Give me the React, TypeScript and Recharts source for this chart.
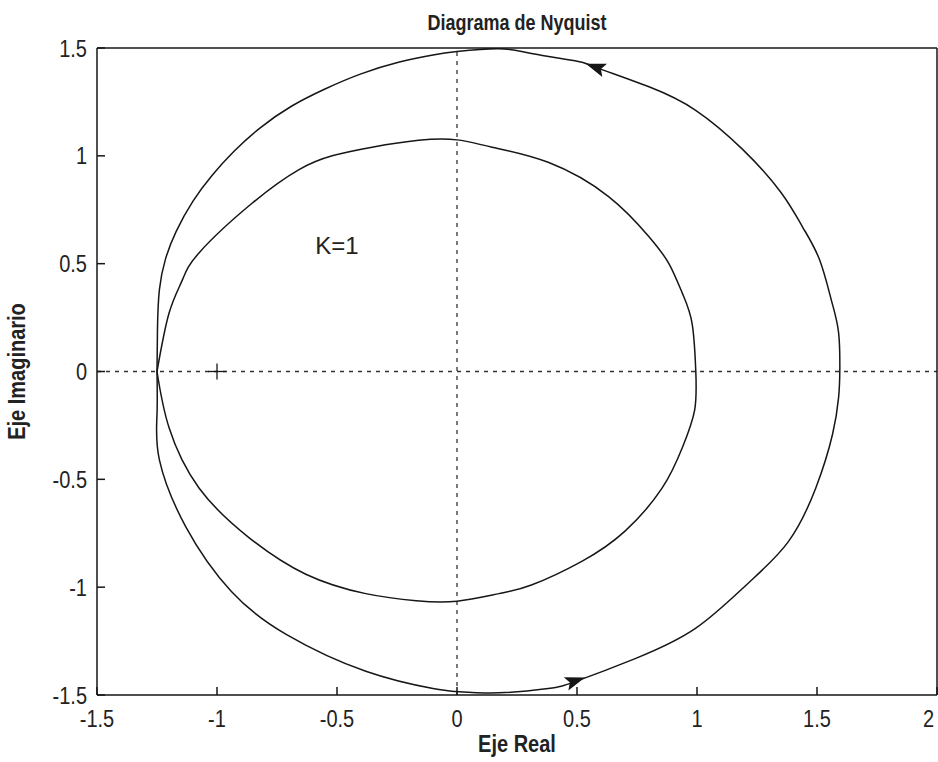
import {
  ScatterChart,
  Scatter,
  XAxis,
  YAxis,
  ReferenceLine,
  Label,
} from "recharts";

// curve points (real, imaginary)
const outerUpper = [
  [-1.25, 0], [-1.248, 0.2], [-1.24, 0.38], [-1.215, 0.52], [-1.17, 0.65],
  [-1.1, 0.79], [-1.02, 0.91], [-0.93, 1.02], [-0.82, 1.13], [-0.69, 1.23],
  [-0.55, 1.31], [-0.4, 1.38], [-0.24, 1.435], [-0.1, 1.468], [0, 1.484],
  [0.175, 1.497], [0.31, 1.475], [0.496, 1.44], [0.58, 1.41], [0.8, 1.32],
  [0.996, 1.21], [1.19, 1.03], [1.35, 0.83], [1.44, 0.67], [1.51, 0.52],
  [1.56, 0.33], [1.59, 0.18], [1.595, 0],
];
const outerLower = [
  [1.59, -0.12], [1.565, -0.29], [1.495, -0.54], [1.38, -0.79], [1.21, -0.985],
  [0.995, -1.19], [0.745, -1.33], [0.495, -1.437], [0.38, -1.47], [0.175, -1.49],
  [0, -1.484], [-0.1, -1.47], [-0.38, -1.39], [-0.71, -1.22], [-0.94, -1.02],
  [-1.13, -0.72], [-1.24, -0.41], [-1.25, -0.2], [-1.25, 0],
];
const innerUpper = [
  [-1.25, 0], [-1.2, 0.27], [-1.146, 0.42], [-1.075, 0.55], [-0.854, 0.78],
  [-0.66, 0.935], [-0.52, 1.0], [-0.354, 1.04], [-0.16, 1.072], [0, 1.074],
  [0.146, 1.04], [0.38, 0.97], [0.633, 0.81], [0.8, 0.625], [0.883, 0.5],
  [0.94, 0.36], [0.98, 0.22], [0.995, 0],
];
const innerLower = [
  [0.99, -0.18], [0.94, -0.35], [0.855, -0.54], [0.7, -0.74], [0.52, -0.88],
  [0.31, -0.99], [0.175, -1.03], [0, -1.065], [-0.17, -1.063], [-0.38, -1.03],
  [-0.63, -0.94], [-0.867, -0.77], [-1.075, -0.54], [-1.2, -0.26], [-1.25, 0],
];

const upperArrow = [{ x: 0.58, y: 1.41 }];
const lowerArrow = [{ x: 0.49, y: -1.435 }];
const criticalPoint = [{ x: -1, y: 0 }];
const gainNote = [{ x: -0.5, y: 0.585, text: "K=1" }];

const xTicks = [-1.5, -1, -0.5, 0, 0.5, 1, 1.5, 2];
const yTicks = [-1.5, -1, -0.5, 0, 0.5, 1, 1.5];

const toPts = (arr: number[][]) => arr.map(([x, y]) => ({ x, y }));
const outer = toPts([...outerUpper, ...outerLower]);
const inner = toPts([...innerUpper, ...innerLower]);

const FONT = "Arial, 'Liberation Sans', Helvetica, sans-serif";
const INK = "#161616";
const TXT = "#222";
// the scanned figure has its lettering stretched vertically
const STRETCH = 1.2;

const noDot = () => <g />;

const xTick = (props: any) => {
  const { x, y, payload } = props;
  // last label sits on the page edge, keep it inside
  const anchor = payload.value === xTicks[xTicks.length - 1] ? "end" : "middle";
  return (
    <text transform={`translate(${x},${y}) scale(1,${STRETCH})`} dy="0.71em"
      textAnchor={anchor} fontFamily={FONT} fontSize={20} fill={TXT}>
      {payload.value}
    </text>
  );
};

const yTick = (props: any) => {
  const { x, y, payload } = props;
  return (
    <text transform={`translate(${x},${y}) scale(1,${STRETCH})`} dy="0.36em"
      textAnchor="end" fontFamily={FONT} fontSize={20} fill={TXT}>
      {payload.value}
    </text>
  );
};

const stretchedText = (value: string, size: number, place: (vb: any) => string) =>
  (props: any) => (
    <text transform={place(props.viewBox)} textAnchor="middle" fontFamily={FONT}
      fontSize={size} fontWeight="bold" fill={TXT}>
      {value}
    </text>
  );

const titleContent = stretchedText("Diagrama de Nyquist", 18,
  (vb) => `translate(${vb.x + vb.width / 2},30) scale(1,${STRETCH})`);
const xLabelContent = stretchedText("Eje Real", 20,
  (vb) => `translate(${vb.x + vb.width / 2},${vb.y + vb.height + 27}) scale(1,${STRETCH})`);
const yLabelContent = stretchedText("Eje Imaginario", 20,
  (vb) => `translate(25,${vb.y + vb.height / 2}) rotate(-90) scale(1,${STRETCH})`);

const arrowShape = (angle: number) => (props: any) => {
  const { cx, cy } = props;
  return (
    <polygon
      points="11,0 -9,-7 -5,0 -9,7"
      fill={INK}
      transform={`translate(${cx},${cy}) rotate(${angle})`}
    />
  );
};

const crossShape = (props: any) => {
  const { cx, cy } = props;
  return (
    <g stroke={INK} strokeWidth={1.3}>
      <line x1={cx - 9} y1={cy} x2={cx + 9} y2={cy} />
      <line x1={cx} y1={cy - 8} x2={cx} y2={cy + 8} />
    </g>
  );
};

const noteShape = (props: any) => {
  const { cx, cy, payload } = props;
  return (
    <text x={cx} y={cy} dy="0.36em" textAnchor="middle"
      fontFamily={FONT} fontSize={24} fill={TXT}>
      {payload.text}
    </text>
  );
};

export default function App() {
  return (
    <div style={{ position: "absolute", left: 0, top: 0, background: "#fff" }}>
      <ScatterChart width={938} height={762} margin={{ top: 47, right: 0, bottom: 37, left: 0 }}>
        <XAxis
          xAxisId="top"
          orientation="top"
          type="number"
          dataKey="x"
          domain={[-1.5, 2]}
          ticks={xTicks}
          allowDataOverflow
          height={1}
          tick={false}
          tickSize={-8}
          stroke={INK}
          strokeWidth={1.5}
        >
          <Label content={titleContent} />
        </XAxis>
        <XAxis
          type="number"
          dataKey="x"
          domain={[-1.5, 2]}
          ticks={xTicks}
          allowDataOverflow
          height={30}
          tickSize={-8}
          tickMargin={23}
          tick={xTick}
          stroke={INK}
          strokeWidth={1.5}
        >
          <Label content={xLabelContent} />
        </XAxis>
        <YAxis
          type="number"
          dataKey="y"
          domain={[-1.5, 1.5]}
          ticks={yTicks}
          allowDataOverflow
          width={97}
          tickSize={-8}
          tickMargin={18}
          tick={yTick}
          stroke={INK}
          strokeWidth={1.5}
        >
          <Label content={yLabelContent} />
        </YAxis>
        <YAxis
          yAxisId="right"
          orientation="right"
          type="number"
          dataKey="y"
          domain={[-1.5, 1.5]}
          ticks={yTicks}
          allowDataOverflow
          width={1}
          tick={false}
          tickSize={-8}
          stroke={INK}
          strokeWidth={1.5}
        />
        <ReferenceLine x={0} stroke="#333" strokeWidth={1.3} strokeDasharray="4 5" />
        <ReferenceLine y={0} stroke="#333" strokeWidth={1.3} strokeDasharray="4 5" />
        <Scatter data={outer} fill={INK} line={{ stroke: INK, strokeWidth: 1.5 }}
          lineJointType="natural" shape={noDot} isAnimationActive={false} />
        <Scatter data={inner} fill={INK} line={{ stroke: INK, strokeWidth: 1.5 }}
          lineJointType="natural" shape={noDot} isAnimationActive={false} />
        <Scatter data={upperArrow} fill={INK} shape={arrowShape(199.7)} isAnimationActive={false} />
        <Scatter data={lowerArrow} fill={INK} shape={arrowShape(-18.9)} isAnimationActive={false} />
        <Scatter data={criticalPoint} fill={INK} shape={crossShape} isAnimationActive={false} />
        <Scatter data={gainNote} fill={INK} shape={noteShape} isAnimationActive={false} />
      </ScatterChart>
    </div>
  );
}
